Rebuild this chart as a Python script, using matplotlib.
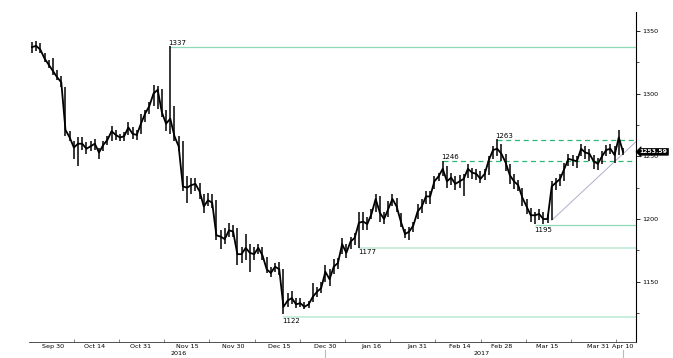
import numpy as np
import pandas as pd
import matplotlib
matplotlib.use('Agg')
import matplotlib.pyplot as plt
import matplotlib.transforms as mtransforms

# gold spot, daily, Sep 23 2016 - Apr 10 2017 (weekdays only)
dates = pd.bdate_range('2016-09-23', '2017-04-10')

close = [1337, 1338, 1335, 1328, 1323,
         1318, 1313, 1309, 1271, 1265, 1257, 1260, 1260, 1256, 1258,
         1260, 1253, 1259, 1263, 1270, 1267, 1265, 1266, 1273, 1268,
         1267, 1276, 1284, 1290, 1300, 1303, 1285, 1276, 1280, 1266,
         1258, 1226, 1225, 1227, 1228, 1222, 1210, 1215, 1213, 1187,
         1186, 1184, 1191, 1190, 1172, 1172, 1177, 1173, 1172, 1177,
         1171, 1160, 1157, 1162, 1160, 1130, 1135, 1137, 1132, 1133,
         1130, 1132, 1138, 1142, 1145, 1158, 1152, 1162, 1165, 1180,
         1173, 1182, 1185, 1197, 1198, 1196, 1204, 1216, 1205, 1200,
         1208, 1216, 1210, 1198, 1188, 1190, 1195, 1206, 1210, 1218,
         1218, 1230, 1234, 1240, 1230, 1233, 1228, 1230, 1232, 1240,
         1237, 1236, 1232, 1236, 1247, 1255, 1256, 1252, 1245, 1235,
         1230, 1227, 1217, 1210, 1203, 1203, 1204, 1200, 1200, 1226,
         1229, 1232, 1240, 1248, 1247, 1246, 1256, 1253, 1252, 1246,
         1244, 1250, 1255, 1256, 1251, 1265, 1253.59]

high = [1341, 1342, 1340, 1332, 1327,
        1328, 1319, 1314, 1305, 1270, 1262, 1265, 1265, 1261, 1262,
        1264, 1257, 1262, 1266, 1274, 1271, 1268, 1269, 1277, 1273,
        1271, 1284, 1287, 1293, 1307, 1306, 1304, 1287, 1338, 1290,
        1266, 1262, 1234, 1233, 1233, 1229, 1220, 1221, 1220, 1215,
        1191, 1193, 1197, 1195, 1193, 1178, 1188, 1180, 1178, 1180,
        1178, 1170, 1162, 1165, 1166, 1160, 1141, 1143, 1137, 1137,
        1134, 1135, 1149, 1146, 1150, 1163, 1160, 1168, 1169, 1185,
        1180, 1186, 1189, 1206, 1206, 1202, 1208, 1220, 1218, 1206,
        1214, 1220, 1217, 1205, 1192, 1194, 1198, 1212, 1216, 1222,
        1222, 1234, 1237, 1246, 1242, 1237, 1234, 1235, 1236, 1244,
        1241, 1240, 1238, 1240, 1250, 1258, 1264, 1260, 1252, 1244,
        1236, 1231, 1225, 1216, 1209, 1206, 1208, 1206, 1204, 1230,
        1233, 1236, 1245, 1252, 1251, 1250, 1260, 1258, 1256, 1251,
        1249, 1254, 1259, 1260, 1258, 1271, 1257]

low = [1332, 1334, 1332, 1325, 1320,
       1315, 1311, 1305, 1266, 1262, 1248, 1242, 1255, 1252, 1254,
       1255, 1248, 1254, 1259, 1262, 1263, 1262, 1262, 1267, 1264,
       1263, 1268, 1277, 1284, 1290, 1288, 1281, 1270, 1268, 1262,
       1254, 1222, 1213, 1220, 1222, 1216, 1205, 1210, 1209, 1183,
       1176, 1180, 1186, 1186, 1163, 1165, 1167, 1158, 1167, 1172,
       1167, 1157, 1154, 1158, 1155, 1124, 1130, 1132, 1129, 1130,
       1128, 1129, 1134, 1138, 1141, 1150, 1147, 1156, 1160, 1172,
       1169, 1176, 1179, 1177, 1191, 1191, 1200, 1206, 1198, 1196,
       1202, 1210, 1206, 1194, 1185, 1183, 1190, 1200, 1205, 1212,
       1212, 1224, 1230, 1234, 1225, 1227, 1223, 1225, 1218, 1233,
       1232, 1231, 1229, 1231, 1235, 1248, 1250, 1246, 1238, 1228,
       1224, 1222, 1210, 1204, 1198, 1196, 1199, 1196, 1197, 1199,
       1223, 1226, 1230, 1242, 1242, 1241, 1250, 1248, 1246, 1240,
       1239, 1244, 1250, 1252, 1245, 1251, 1251]

last_price = 1253.59

# support / resistance levels
level_vals = [1337, 1263, 1246, 1195, 1177, 1122]
level_from = ['2016-11-09', '2017-02-27', '2017-02-08', '2017-03-10', '2017-01-11', '2016-12-16']
level_kind = ['solid', 'dashed', 'dashed', 'solid', 'faint', 'faint']

# trend line anchors
trend_dates = ['2017-03-16', '2017-04-10']
trend_vals = [1199, 1252]

tick_dates = ['2016-09-30', '2016-10-14', '2016-10-31', '2016-11-15', '2016-11-30',
              '2016-12-15', '2016-12-30', '2017-01-16', '2017-01-31', '2017-02-14',
              '2017-02-28', '2017-03-15', '2017-03-31', '2017-04-10']
tick_labels = ['Sep 30', 'Oct 14', 'Oct 31', 'Nov 15', 'Nov 30', 'Dec 15', 'Dec 30',
               'Jan 16', 'Jan 31', 'Feb 14', 'Feb 28', 'Mar 15', 'Mar 31', 'Apr 10']


def pos(d):
    return dates.get_loc(pd.Timestamp(d))


x = np.arange(len(dates))

fig = plt.figure(figsize=(6.73, 3.58), dpi=100)
ax = fig.add_axes([0.0431, 0.0447, 0.9019, 0.9218])

xmin, xmax = -0.7, len(dates) + 2.1
ax.set_xlim(xmin, xmax)
ax.set_ylim(1102, 1365)

# levels
styles = {'solid': dict(color='#8fd9b6', lw=0.9, ls='-'),
          'dashed': dict(color='#2fb873', lw=0.9, ls=(0, (4, 3))),
          'faint': dict(color='#c9eedc', lw=1.4, ls='-')}
for v, d, k in zip(level_vals, level_from, level_kind):
    x0 = pos(d)
    ax.hlines(v, x0, xmax, zorder=1, **styles[k])
    if k == 'solid' and v > 1300 or k == 'dashed':
        ax.text(x0 - 0.4, v + 0.8, str(v), fontsize=5, ha='left', va='bottom', color='black')
    else:
        ax.text(x0 - 0.2, v - 1.2, str(v), fontsize=5, ha='left', va='top', color='black')

# trend line, extended to the axis edge
tx = [pos(d) for d in trend_dates]
slope = (trend_vals[1] - trend_vals[0]) / (tx[1] - tx[0])
ax.plot([tx[0], xmax], [trend_vals[0], trend_vals[0] + slope * (xmax - tx[0])],
        color='#b0aecb', lw=0.7, zorder=2)

# price
ax.vlines(x, low, high, color='black', lw=1.1, zorder=3)
ax.plot(x, close, color='black', lw=1.3, zorder=3)

# axes cosmetics
for s in ['top', 'left']:
    ax.spines[s].set_visible(False)
ax.spines['right'].set_linewidth(0.8)
ax.spines['bottom'].set_linewidth(0.6)
ax.spines['bottom'].set_color('#333333')

ax.yaxis.tick_right()
ax.set_yticks([1150, 1200, 1250, 1300, 1350])
ax.set_yticks(np.arange(1125, 1365, 25), minor=True)
ax.tick_params(axis='y', which='major', direction='out', length=3, width=0.6,
               labelsize=4.6, pad=1.5)
ax.tick_params(axis='y', which='minor', direction='out', length=2, width=0.5)

ax.set_xticks([pos(d) for d in tick_dates])
ax.set_xticklabels(tick_labels)
ax.set_xticks(np.linspace(pos('2016-09-30') + 5, pos('2016-09-30') + 134.4, 13), minor=True)
ax.tick_params(axis='x', which='major', length=0, labelsize=4.6, pad=1.2)
ax.tick_params(axis='x', which='minor', direction='in', length=2, width=0.5, color='#555555')

trans = mtransforms.blended_transform_factory(ax.transData, ax.transAxes)
split = pos('2016-12-30') + 0.5
ax.text((xmin + split) / 2, -0.036, '2016', transform=trans, fontsize=4.6,
        ha='center', va='center')
ax.text((split + xmax) / 2, -0.036, '2017', transform=trans, fontsize=4.6,
        ha='center', va='center')
for xs in [pos('2016-12-30'), pos('2017-04-10')]:
    ax.plot([xs, xs], [-0.024, -0.05], transform=trans, clip_on=False,
            color='#bbbbbb', lw=0.8)

# last price tag
tag = mtransforms.blended_transform_factory(ax.transAxes, ax.transData)
ax.text(1.006, last_price, f'{last_price:.2f}', transform=tag, fontsize=4.4,
        family=['Liberation Sans Narrow', 'DejaVu Sans'],
        color='white', ha='left', va='center', fontweight='bold', zorder=10,
        clip_on=False,
        bbox=dict(boxstyle='larrow,pad=0.15', fc='black', ec='black', lw=0.5))

fig.savefig('out.png', dpi=100)
plt.close()
